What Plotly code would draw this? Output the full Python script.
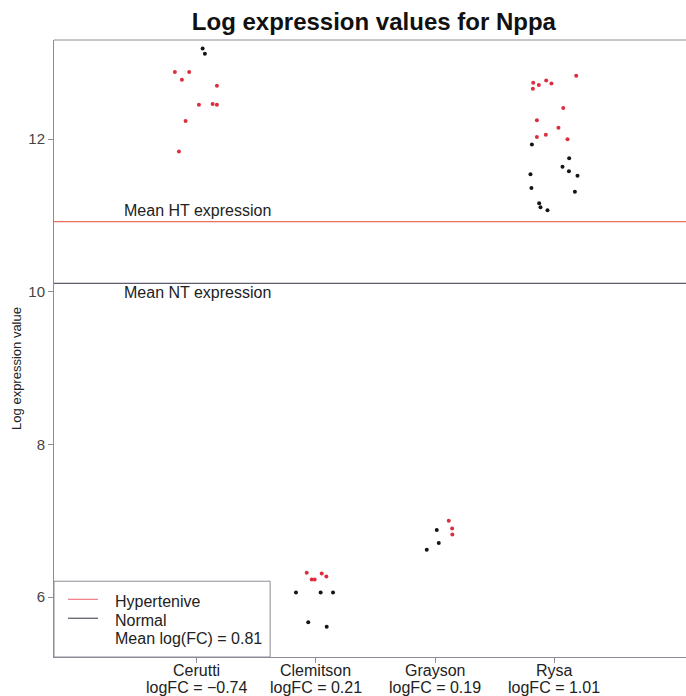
import plotly.graph_objects as go

# Study labels and per-study log fold changes
studies = ["Cerutti", "Clemitson", "Grayson", "Rysa"]
study_pos = [1, 2, 3, 4]
logfc = ["\u22120.74", "0.21", "0.19", "1.01"]

# Hypertensive samples (jittered x position, log expression)
ht_x = [0.815, 0.935, 0.874, 1.168, 1.017, 1.132, 1.168, 0.905, 0.849,
        1.922, 2.048, 2.087, 1.964, 1.989,
        3.115, 3.143, 3.145,
        4.185, 3.824, 3.871, 3.933, 3.977, 3.821, 4.076, 3.855, 4.036, 3.930, 3.855, 4.112]
ht_y = [12.88, 12.88, 12.78, 12.70, 12.45, 12.46, 12.45, 12.24, 11.84,
        6.32, 6.31, 6.27, 6.23, 6.23,
        7.00, 6.90, 6.82,
        12.83, 12.74, 12.71, 12.77, 12.73, 12.66, 12.41, 12.25, 12.15, 12.06, 12.03, 12.00]

# Normotensive samples
nt_x = [1.048, 1.067,
        1.832, 2.039, 2.143, 1.935, 2.090,
        3.014, 3.031, 2.930,
        3.813, 4.126, 4.070, 4.124, 4.196, 3.801, 3.809, 4.174, 3.874, 3.885, 3.944]
nt_y = [13.19, 13.12,
        6.06, 6.06, 6.06, 5.67, 5.61,
        6.88, 6.71, 6.62,
        11.93, 11.75, 11.64, 11.58, 11.52, 11.54, 11.36, 11.31, 11.16, 11.11, 11.07]

mean_ht = 10.92
mean_nt = 10.11
mean_logfc = "0.81"

y_ticks = [6, 8, 10, 12]

FONT = "Liberation Sans, Arial, sans-serif"
RED_PT = "#dc2e3e"
BLACK_PT = "#151515"
HT_LINE = "#e8705e"
NT_LINE = "#5c5c6c"
AXIS = "#8c8c98"
TXT = "#222"

fig = go.Figure()

fig.add_trace(go.Scatter(x=ht_x, y=ht_y, mode="markers",
                         marker=dict(color=RED_PT, size=4), showlegend=False))
fig.add_trace(go.Scatter(x=nt_x, y=nt_y, mode="markers",
                         marker=dict(color=BLACK_PT, size=4), showlegend=False))

# Mean expression reference lines
fig.add_hline(y=mean_ht, line=dict(color=HT_LINE, width=1.2))
fig.add_hline(y=mean_nt, line=dict(color=NT_LINE, width=1.2))

fig.add_annotation(x=0.37, y=mean_ht, yshift=11, text="Mean HT expression", showarrow=False,
                   xanchor="left", yanchor="middle", font=dict(size=16, color=TXT))
fig.add_annotation(x=0.37, y=mean_nt, yshift=-9, text="Mean NT expression", showarrow=False,
                   xanchor="left", yanchor="middle", font=dict(size=16, color=TXT))

# Top frame line (no right-hand border)
fig.add_shape(type="line", xref="paper", yref="paper", x0=0, x1=1, y0=1, y1=1,
              line=dict(color=AXIS, width=1))

# Legend box drawn manually in the bottom-left corner of the plot
fig.add_shape(type="rect", xref="paper", yref="paper", x0=0, x1=0.342, y0=0, y1=0.1228,
              line=dict(color=AXIS, width=1), fillcolor="white", layer="above")
leg_rows = [("Hypertenive", "#f07a86", 0.0905), ("Normal", "#555560", 0.0598),
            ("Mean log(FC) = " + mean_logfc, None, 0.0307)]
for label, col, yp in leg_rows:
    if col:
        fig.add_shape(type="line", xref="paper", yref="paper", x0=0.0222, x1=0.0696,
                      y0=yp + 0.003, y1=yp + 0.003, line=dict(color=col, width=1.2), layer="above")
    fig.add_annotation(xref="paper", yref="paper", x=0.0934, y=yp, text=label, showarrow=False,
                       xanchor="left", yanchor="middle", font=dict(size=16, color=TXT))

# Two-line study labels under the x axis
for pos, name, fc in zip(study_pos, studies, logfc):
    fig.add_annotation(x=pos, xref="x", yref="paper", y=0, yshift=-13, text=name,
                       showarrow=False, xanchor="center", yanchor="middle",
                       font=dict(size=16, color=TXT))
    fig.add_annotation(x=pos, xref="x", yref="paper", y=0, yshift=-30, text=f"logFC = {fc}",
                       showarrow=False, xanchor="center", yanchor="middle",
                       font=dict(size=16, color=TXT))

# Y-axis title
fig.add_annotation(xref="paper", yref="paper", x=-0.0585, y=0.467, text="Log expression value",
                   textangle=-90, showarrow=False, xanchor="center", yanchor="middle",
                   font=dict(size=13, color=TXT))

fig.update_layout(
    width=686, height=696,
    margin=dict(l=54, r=0, t=40, b=39),
    paper_bgcolor="white", plot_bgcolor="white",
    font=dict(family=FONT, size=14, color=TXT),
    title=dict(text="<b>Log expression values for Nppa</b>", x=0.545, xanchor="center",
               y=0.969, yanchor="middle", font=dict(size=24, color="#111")),
    showlegend=False,
)
fig.update_xaxes(range=[-0.2, 5.107], tickvals=study_pos, showticklabels=False,
                 ticks="outside", ticklen=5, tickcolor=AXIS, showgrid=False, zeroline=False,
                 showline=True, linecolor=AXIS, linewidth=1, mirror=False)
fig.update_yaxes(range=[5.215, 13.30], tickvals=y_ticks, ticks="outside", ticklen=5,
                 tickcolor=AXIS, showgrid=False, zeroline=False, showline=True,
                 linecolor=AXIS, linewidth=1, mirror=False,
                 tickfont=dict(size=15, color="#444"))

fig.write_html("out.html")
